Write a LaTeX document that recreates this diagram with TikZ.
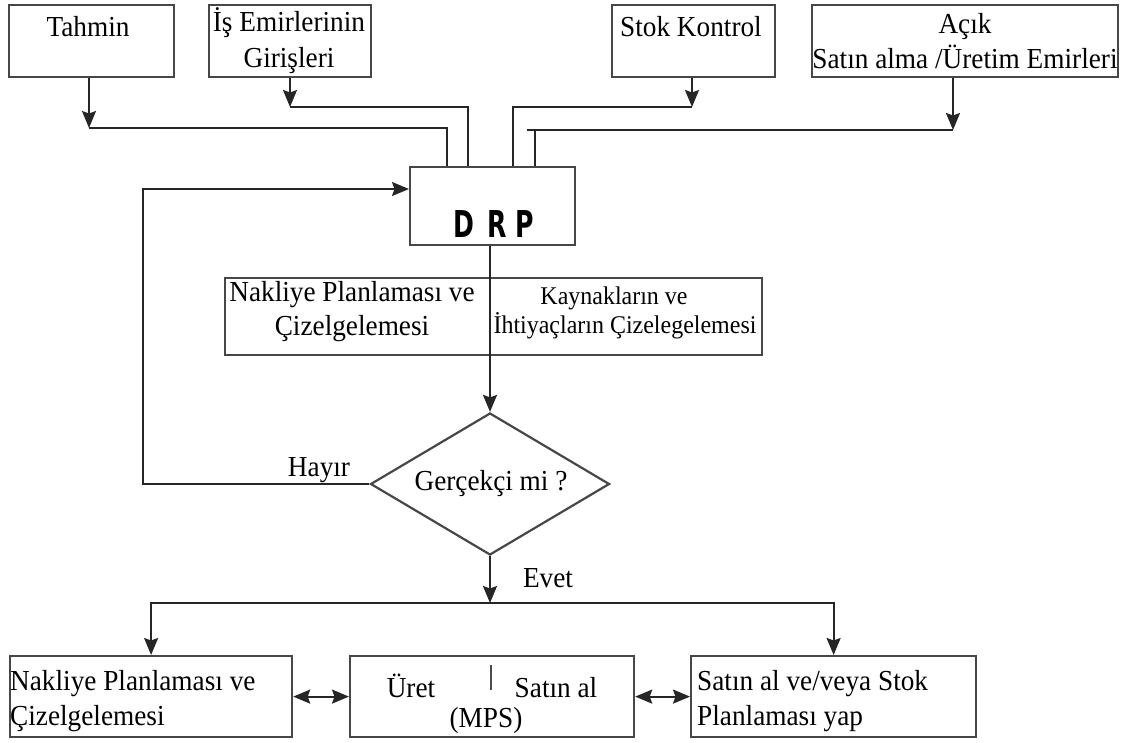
\documentclass[tikz,border=0pt]{standalone}
\usepackage{fontspec}
\setmainfont{Liberation Serif}[FakeStretch=0.94]
\newfontfamily\drpfont{DejaVu Sans}[FakeStretch=0.68]
\usetikzlibrary{arrows.meta,shapes.geometric}

\begin{document}
\begin{tikzpicture}[x=1pt,y=-1pt,
  box/.style={draw=black!72,line width=2.2pt,anchor=north west,inner sep=0pt},
  conn/.style={draw=black!85,line width=2pt},
  arr/.style={conn,-{Stealth[length=17pt,width=14pt,inset=2.5pt]}},
  darr/.style={conn,{Stealth[length=17pt,width=14pt,inset=2.5pt]}-{Stealth[length=17pt,width=14pt,inset=2.5pt]}},
  txt/.style={inner sep=0pt,anchor=base,font=\fontsize{29}{35}\selectfont},
  txtl/.style={txt,anchor=base west},
  small/.style={inner sep=0pt,anchor=base,font=\fontsize{25.5}{30}\selectfont},
  decision/.style={diamond,draw=black!72,line width=2.2pt,inner sep=0pt,
    minimum width=239pt,minimum height=142pt}
]
\useasboundingbox (0,0) rectangle (1124,742);

% input boxes
\node (tahmin) [box,minimum width=165pt,minimum height=72pt] at (8,4) {};
\node (is)     [box,minimum width=162pt,minimum height=72pt] at (208,4) {};
\node (stok)   [box,minimum width=163pt,minimum height=72pt] at (611,4) {};
\node (acik)   [box,minimum width=306pt,minimum height=72pt] at (811,4) {};

\node (tahminT) [txt] at (88,36) {Tahmin};
\node (isT1)    [txt] at (289,31) {İş Emirlerinin};
\node (isT2)    [txt] at (289,67) {Girişleri};
\node (stokT)   [txt] at (691,36) {Stok Kontrol};
\node (acikT1)  [txt] at (965,33) {Açık};
\node (acikT2)  [txt] at (965,68) {Satın alma /Üretim Emirleri};

% DRP block
\node (drp) [box,minimum width=165pt,minimum height=78pt] at (409,166) {};
\node (drpT) [inner sep=0pt,anchor=base,font=\drpfont\bfseries\fontsize{37}{40}\selectfont]
  at (493.5,237) {D\hspace{13pt}R\hspace{9pt}P};

% entry points on top of DRP
\coordinate (d1) at (447,166);
\coordinate (d2) at (468,166);
\coordinate (d3) at (513,166);
\coordinate (d4) at (535,166);

% junction points below the input boxes
\coordinate (tj) at (89,128);
\coordinate (ij) at (290,107);
\coordinate (sj) at (692,107);
\coordinate (aj) at (953,130);
\coordinate (al) at (527,130);

\draw[arr] (tj |- tahmin.south) -- (tj);
\draw[conn] (tj) -| (d1);
\draw[arr] (ij |- is.south) -- (ij);
\draw[conn] (ij) -| (d2);
\draw[arr] (sj |- stok.south) -- (sj);
\draw[conn] (sj) -| (d3);
\draw[arr] (aj |- acik.south) -- (aj);
\draw[conn] (aj) -- (al);
\draw[conn] (d4) -- (d4 |- aj);

% planning box
\node (plan) [box,minimum width=537pt,minimum height=77pt] at (224,277) {};
\node (planL1) [txt] at (352,301) {Nakliye Planlaması ve};
\node (planL2) [txt] at (352,335) {Çizelgelemesi};
\node (planR1) [small] at (614,304) {Kaynakların ve};
\node (planR2) [small] at (625,333) {İhtiyaçların Çizelegelemesi};

% decision
\node (gq) [decision] at (490,484) {};
\node (gqT) [txt] at (491,490) {Gerçekçi mi ?};
\draw[arr] (drp.south -| gq.north) -- (gq.north);

% loop back to DRP
\coordinate (lp) at (143,189);
\draw[arr] (gq.west) -| (lp) -- (drp.west |- lp);
\node (hayir) [txt] at (319,476) {Hayır};

% bottom row
\node (b1) [box,minimum width=282pt,minimum height=81pt] at (9,655) {};
\node (b2) [box,minimum width=284pt,minimum height=81pt] at (349,655) {};
\node (b3) [box,minimum width=285pt,minimum height=81pt] at (690,655) {};

\coordinate (jn) at (490,603);
\draw[arr] (gq.south) -- (jn);
\node (evet) [txt] at (548,587) {Evet};
\draw[arr] (jn) -| (b1.north);
\draw[arr] (jn) -| (b3.north);

\draw[darr] (b1.east) -- (b2.west);
\draw[darr] (b2.east) -- (b3.west);

\node (b1T1) [txtl] at (10,690) {Nakliye Planlaması ve};
\node (b1T2) [txtl] at (10,725) {Çizelgelemesi};

\node (b2T1) [txt] at (411,697) {Üret};
\node (b2T2) [txt] at (556,697) {Satın al};
\node (b2T3) [txt] at (486,727) {(MPS)};
\coordinate (bar) at (491,665);
\draw[draw=black!70,line width=1.2pt] (bar) -- ++(0,25);

\node (b3T1) [txtl] at (697,690) {Satın al ve/veya Stok};
\node (b3T2) [txtl] at (697,725) {Planlaması yap};
\end{tikzpicture}
\end{document}
